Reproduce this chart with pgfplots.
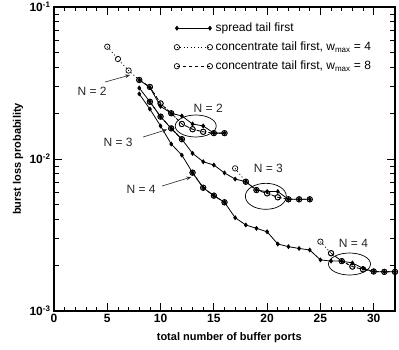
\documentclass[border=0pt]{standalone}
\usepackage{fontspec}
\setmainfont{Liberation Sans}
\usepackage{pgfplots}
\pgfplotsset{compat=1.18}
\usetikzlibrary{calc,arrows.meta}

\begin{document}
\begin{tikzpicture}
\tikzset{
  note/.style={font=\fontsize{12}{14}\selectfont, text=black!85},
  pointer/.style={black!85, line width=0.6pt, -{Stealth[length=5pt]}},
}
\pgfplotsset{
  spread/.style={black, line width=0.8pt, mark=diamond*, mark size=1.9pt, mark options={solid}},
  wfour/.style={black, line width=0.8pt, dash pattern=on 1pt off 2.5pt, mark=o, mark size=2.7pt, mark options={solid, line width=0.7pt}},
  weight/.style={black, line width=0.8pt, dash pattern=on 3.5pt off 2.5pt, mark=o, mark size=2.7pt, mark options={solid, line width=0.7pt}},
}
\begin{axis}[
  name=ax,
  scale only axis, width=341pt, height=304pt,
  ymode=log, xmin=0, xmax=32, ymin=1e-3, ymax=1e-1,
  xtick={0,5,...,30}, xticklabels={0,5,10,15,20,25,30},
  minor x tick num=4,
  ytick={1e-3,1e-2,1e-1},
  yticklabels={10\textsuperscript{-3},10\textsuperscript{-2},10\textsuperscript{-1}},
  tick label style={font=\bfseries\fontsize{12}{14}\selectfont},
  tick align=inside,
  major tick length=8pt, minor tick length=4.5pt,
  major tick style={black, line width=0.9pt},
  minor tick style={black, line width=0.8pt},
  axis line style={line width=1.4pt},
  xlabel={total number of buffer ports},
  ylabel={burst loss probability},
  every axis x label/.style={at={(axis description cs:0.514,-0.0888)}, anchor=center,
    font=\bfseries\fontsize{11}{13}\selectfont},
  every axis y label/.style={at={(axis description cs:-0.1056,0.5)}, anchor=center, rotate=90,
    font=\bfseries\fontsize{11}{13}\selectfont},
  clip=false,
  legend style={at={(axis description cs:0.352,0.9605)}, anchor=north west,
    draw=none, fill=none, inner sep=0pt, row sep=1pt,
    font=\fontsize{12}{14}\selectfont,
    nodes={inner sep=3pt, text height=9pt, text depth=3pt}},
  legend cell align=left,
  legend image code/.code={\draw[#1] plot coordinates {(0pt,0pt) (33pt,0pt)};},
]

% spread tail first
\addplot[spread] coordinates {(8,0.0331)(9,0.0296)(10,0.0222)(11,0.0200)(12,0.0192)(13,0.0170)(14,0.0165)(15,0.0148)(16,0.0148)};
\addlegendentry{spread tail first}

% concentrate tail first, w_max = 4
\addplot[wfour] coordinates {(5,0.0548)(6,0.0455)(7,0.0382)(8,0.0331)(9,0.0298)(10,0.0232)(11,0.0200)(12,0.0170)(13,0.0157)(14,0.0151)(15,0.0148)(16,0.0148)};
\addlegendentry{concentrate tail first, w\textsubscript{max} = 4}

% concentrate tail first, w_max = 8
\addplot[weight] coordinates {(8,0.0331)(9,0.0298)(10,0.0232)(11,0.0200)(12,0.0170)(13,0.0157)(14,0.0151)(15,0.0148)(16,0.0148)};
\addlegendentry{concentrate tail first, w\textsubscript{max} = 8}

% N = 3
\addplot[spread, forget plot] coordinates {(8,0.0293)(9,0.0238)(10,0.0190)(11,0.0159)(12,0.0135)(13,0.0109)(14,0.0096)(15,0.00913)(16,0.0081)(17,0.00738)(18,0.00709)(19,0.00625)(20,0.00610)(21,0.00611)(22,0.00543)(23,0.00543)(24,0.00543)};
\addplot[wfour, forget plot] coordinates {(9,0.0238)(10,0.0190)(11,0.0159)(12,0.0135)};
\addplot[wfour, forget plot] coordinates {(17,0.00868)(18,0.00709)(19,0.00625)(20,0.00594)(21,0.00560)(22,0.00543)(23,0.00543)(24,0.00543)};
\addplot[weight, forget plot] coordinates {(9,0.0238)(10,0.0190)(11,0.0159)(12,0.0135)};
\addplot[weight, forget plot] coordinates {(18,0.00709)(19,0.00625)(20,0.00594)(21,0.00560)(22,0.00543)(23,0.00543)(24,0.00543)};

% N = 4
\addplot[spread, forget plot] coordinates {(8,0.0268)(9,0.0213)(10,0.0165)(11,0.01255)(12,0.0106)(13,0.00813)(14,0.00647)(15,0.00574)(16,0.00519)(17,0.00411)(18,0.00368)(19,0.00350)(20,0.00332)(21,0.00276)(22,0.00265)(23,0.00258)(24,0.00252)(25,0.00217)(26,0.00213)(27,0.00213)(28,0.00207)(29,0.00191)(30,0.00182)(31,0.00181)(32,0.00181)};
\addplot[wfour, forget plot] coordinates {(13,0.00813)(14,0.00647)(15,0.00574)(16,0.00519)};
\addplot[wfour, forget plot] coordinates {(25,0.00286)(26,0.00240)(27,0.00213)(28,0.00196)(29,0.00188)(30,0.00182)(31,0.00181)(32,0.00181)};
\addplot[weight, forget plot] coordinates {(13,0.00813)(14,0.00647)(15,0.00574)(16,0.00519)};
\addplot[weight, forget plot] coordinates {(26,0.00240)(27,0.00213)(28,0.00196)(29,0.00188)(30,0.00182)(31,0.00181)(32,0.00181)};

% ellipses around the regions where the schemes differ
\draw[line width=0.7pt] (axis cs:13.30,0.01649) ellipse [x radius=20.5pt, y radius=11pt];
\draw[line width=0.7pt] (axis cs:19.88,0.005683) ellipse [x radius=20.5pt, y radius=13pt];
\draw[line width=0.7pt] (axis cs:27.73,0.002038) ellipse [x radius=21pt, y radius=11pt];

% labels
\node[note] at (axis cs:3.57,0.02802) {N = 2};
\draw[pointer] (axis cs:4.79,0.03210) -- (axis cs:7.14,0.03570);
\node[note] at (axis cs:14.47,0.02165) {N = 2};
\node[note] at (axis cs:6.02,0.01294) {N = 3};
\draw[pointer] (axis cs:8.36,0.01395) -- (axis cs:10.62,0.01563);
\node[note] at (axis cs:20.11,0.008725) {N = 3};
\node[note] at (axis cs:8.18,0.006346) {N = 4};
\draw[pointer] (axis cs:10.15,0.006645) -- (axis cs:12.88,0.007612);
\node[note] at (axis cs:28.10,0.002802) {N = 4};
\end{axis}
\pgfresetboundingbox
\path ($(ax.south west)+(-54pt,-38pt)$) rectangle ($(ax.north east)+(4pt,7pt)$);
\end{tikzpicture}
\end{document}
